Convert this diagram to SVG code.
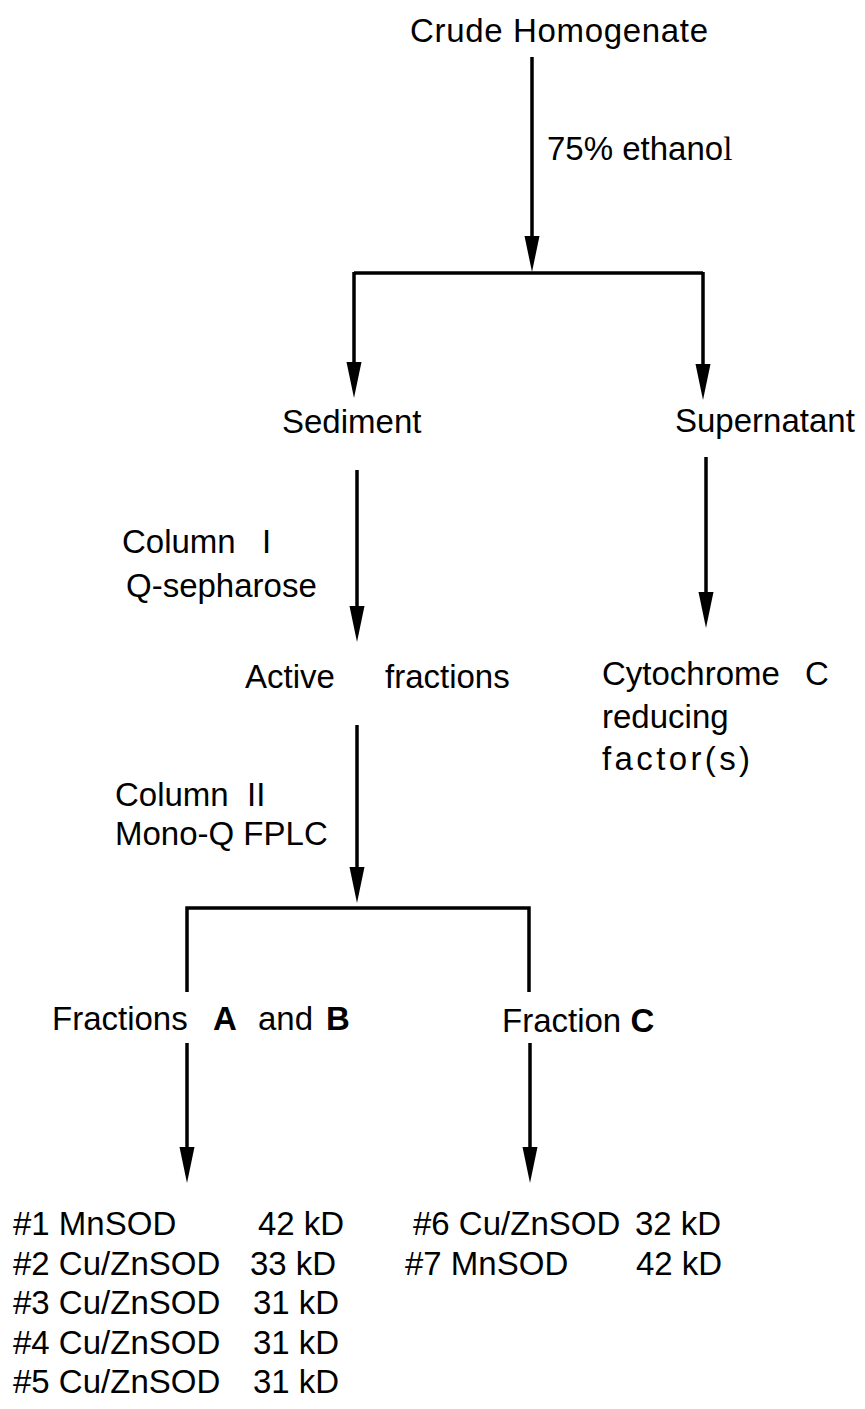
<svg xmlns="http://www.w3.org/2000/svg" width="865" height="1409" viewBox="0 0 865 1409">
<style>
text{font-family:"Liberation Sans",Arial,Helvetica,sans-serif;font-size:33px;fill:#000}
.b{font-weight:bold}
.ln{stroke:#000;stroke-width:3.5;fill:none}
.ar{stroke:#000;stroke-width:3.5;fill:none;marker-end:url(#ah)}
</style>
<defs>
<marker id="ah" viewBox="0 -8 36 16" refX="6" refY="0" markerWidth="36" markerHeight="16" markerUnits="userSpaceOnUse" orient="auto">
<path d="M0,-7.5 L36,0 L0,7.5 Z" fill="#000"/>
</marker>
</defs>
<rect width="865" height="1409" fill="#fff"/>
<g id="connectors">
<line class="ar" x1="532" y1="57" x2="532" y2="242"/>
<path class="ln" d="M354,273 H703"/>
<line class="ar" x1="354" y1="272" x2="354" y2="368"/>
<line class="ar" x1="703" y1="272" x2="703" y2="370"/>
<line class="ar" x1="357" y1="470" x2="357" y2="612"/>
<line class="ar" x1="706" y1="457" x2="706" y2="598"/>
<line class="ar" x1="357" y1="725" x2="357" y2="873"/>
<path class="ln" d="M187,992 V908 H529 V992"/>
<line class="ar" x1="187" y1="1043" x2="187" y2="1153"/>
<line class="ar" x1="530" y1="1043" x2="530" y2="1153"/>
</g>
<g id="crude"><text x="410" y="42" textLength="298">Crude Homogenate</text></g>
<g id="ethanol"><text x="547" y="160">75% ethano<tspan font-family="'Liberation Serif',serif">l</tspan></text></g>
<g id="sediment"><text x="282" y="433">Sediment</text></g>
<g id="supernatant"><text x="675" y="432">Supernatant</text></g>
<g id="column1"><text x="122" y="553">Column<tspan x="262">I</tspan></text><text x="126" y="597">Q-sepharose</text></g>
<g id="active"><text x="245" y="688">Active<tspan x="385">fractions</tspan></text></g>
<g id="cytochrome"><text x="602" y="685">Cytochrome<tspan x="805">C</tspan></text><text x="602" y="728">reducing</text><text x="602" y="770" textLength="148">factor(s)</text></g>
<g id="column2"><text x="115" y="806">Column<tspan x="247">II</tspan></text><text x="115" y="845">Mono-Q FPLC</text></g>
<g id="fractionsAB"><text x="52" y="1030">Fractions<tspan x="213" class="b">A</tspan><tspan x="258">and</tspan><tspan x="326" class="b">B</tspan></text></g>
<g id="fractionC"><text x="502" y="1032">Fraction <tspan class="b">C</tspan></text></g>
<g id="listAB">
<text x="13" y="1235">#1 MnSOD<tspan x="258">42 kD</tspan></text>
<text x="13" y="1275">#2 Cu/ZnSOD<tspan x="250">33 kD</tspan></text>
<text x="13" y="1314">#3 Cu/ZnSOD<tspan x="253">31 kD</tspan></text>
<text x="13" y="1354">#4 Cu/ZnSOD<tspan x="253">31 kD</tspan></text>
<text x="13" y="1393">#5 Cu/ZnSOD<tspan x="253">31 kD</tspan></text>
</g>
<g id="listC">
<text x="413" y="1235">#6 Cu/ZnSOD<tspan x="635">32 kD</tspan></text>
<text x="405" y="1275">#7 MnSOD<tspan x="636">42 kD</tspan></text>
</g>
</svg>
